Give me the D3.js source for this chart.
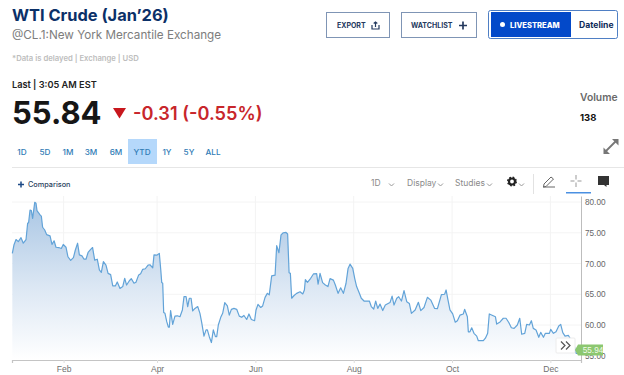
<!DOCTYPE html>
<html><head><meta charset="utf-8">
<script src="https://cdnjs.cloudflare.com/ajax/libs/d3/7.8.5/d3.min.js"></script>
<style>html,body{margin:0;padding:0;background:#fff;overflow:hidden}svg{display:block}text{font-family:Inter,"Open Sans",sans-serif}</style>
</head><body><svg id="c" width="624" height="375"></svg>
<script>
// day of year 2025 (days since Jan 1)
const days=[0.2,1.2,2.5,3.9,5.6,7,8.7,9.7,10.3,11.2,12,12.8,14.1,14.9,15.5,16.5,17.4,18.2,19,20.3,21.5,23.6,24.8,26.1,27.3,29,30.6,31.8,33.5,34.7,36.4,38.1,39.3,40.7,41.8,43.4,44.7,45.9,47.2,48.8,50,51.3,52.9,54.2,55.4,56.7,58.3,59.6,61.2,62.5,64.1,65.3,67,68.7,69.9,71.1,72.8,74,75.7,76.9,78.6,79.8,81.1,82.7,84.4,85.6,87.3,88.1,89.8,91.4,92.3,92.9,93.5,94.1,94.9,96,97,97.6,98.4,99.7,101.1,102.6,104.2,105.7,106.7,108,109,110,111.1,112.1,113.5,115.2,116.6,117.7,119.1,120.4,121.2,122.4,123.7,124.9,126.2,127,128,129.5,130.7,132,133.6,134.8,136.1,137.7,139.4,141,142.5,143.9,145.6,147,148.5,150.5,151.4,152.6,154.3,155.5,157,158.4,159.6,161.1,163.2,164.2,165.6,166.9,168.3,170,171,171.9,172.7,173.5,175,176.6,178.7,180.4,181.4,182,183.3,185.3,187,189,189.9,191.1,192.7,194.4,196,197.3,199.4,200.6,202.3,203.9,205.6,207.2,208.5,209.7,211.4,212.6,213.8,215.5,216.7,218.4,221.7,222.9,224.4,225.6,226.9,228.3,230,231.6,234.5,235.8,237,238.7,239.9,241.6,243.2,244.9,246.5,247.8,250.1,252.1,253.6,255.6,257.7,259.8,262.2,263.9,266.4,268.4,269.3,270.5,271.7,273.4,275,276.3,277.9,280,280.8,282.5,283.1,284.1,285.2,286.6,288.3,289.3,292.4,293.7,295.1,296.1,298.2,299.9,300.7,302.8,304.8,306.5,308.2,309.8,311.5,313.5,315,316.2,318.1,319.3,321,322.2,323.4,325.1,326.8,328,329.7,330.9,333.4,334.2,335.9,337.5,339.2,340.4,341.7,343.1,345.2,348.7,350,351.4];
const prices=[71.65,73,73.9,73.55,74.2,73.3,73.9,76.55,76.65,78.7,78.6,77.35,79.95,79.8,78.6,78.25,77.9,77.7,75.9,75.45,74.7,74.5,73.1,73.7,72.65,72.6,72.45,73.1,72.65,71.1,70.5,70.95,72.2,73.3,71.4,71.25,70.7,70.7,71.8,72.3,72.6,70.55,70.7,68.95,68.55,70.3,69.75,68.4,68.2,66.35,66.35,67,65.95,66.25,67.6,66.5,67.2,67.55,66.8,66.95,68.15,68.35,69.05,69.15,69.75,69.8,69.3,71.4,71.35,71.65,68.95,66.9,66.8,62.05,61.9,60.55,59.65,59.65,62.35,60.1,61.45,61.5,61.35,62.45,64.6,64.6,63,64.35,64.35,62.3,62.7,63,61.9,60.4,58.2,59.2,59.2,58.1,57.15,59.2,58.1,58.1,60,61.25,61.9,63.65,63.1,61.6,62.55,62.7,62.55,61.45,61.25,61.55,60.9,61.8,60.9,60.7,62.45,63.35,62.85,63.1,64.5,65.15,64.9,68,68.1,72.9,71.75,74.65,75,75.05,74.8,68.5,68.4,64.35,64.8,65.15,65.4,65.05,65.7,67.4,66.95,67.6,68.3,68.35,66.65,68.4,66.9,66.5,66.25,67.55,67.3,66.5,65.15,66.05,65.15,66.75,69.2,69.9,69.2,67.6,66.25,65.15,64.35,63.9,63.9,63,62.6,63.9,62.7,63.4,62.35,63.25,63.65,64.7,63.25,64.35,64.6,63.9,65.6,63.8,63.5,61.9,62.45,63.7,62.35,62.85,64.5,64.05,62.7,62.65,64.95,65,65.7,64.05,62.45,61.8,60.45,60.7,61.6,61.8,62.55,61.35,58.9,58.9,59.55,58.65,58.2,57.45,57.45,57.85,58.65,61.8,61.55,61.35,60.15,60.5,61.1,61.1,60.4,59.55,59.45,60,61.1,58.5,58.65,60.1,60,60.7,59.45,59.2,58,58.8,58,58.65,58.65,59.3,58.65,58.9,59.85,60.1,58.75,58.2,58.3,56.75,55.4,55.4];
const monthDays=[32,90,151,212,273,334];
const monthLabels=["Feb","Apr","Jun","Aug","Oct","Dec"];
const priceTicks=[80,75,70,65,60,55];
const rangeLabels=["1D","5D","1M","3M","6M","YTD","1Y","5Y","ALL"];
const rangeCenters=[22,45,68,91,116,142,167,189,213];
const toolbarLabels=[["1D",371],["Display",407],["Studies",455]];

const svg=d3.select("#c");
const x=d3.scaleLinear().domain([0,353]).range([12,581]);
const y=d3.scaleLinear().domain([54.31,80.98]).range([360,196]);
const defs=svg.append("defs");
const g=defs.append("linearGradient").attr("id","ag").attr("x1",0).attr("x2",0).attr("y1",0).attr("y2",1);
g.append("stop").attr("offset","0%").attr("stop-color","#a9c6e4");
g.append("stop").attr("offset","55%").attr("stop-color","#dde8f4");
g.append("stop").attr("offset","100%").attr("stop-color","#ffffff");
const T=(s,px,py,size,fill,weight,anchor)=>svg.append("text").text(s).attr("x",px).attr("y",py).attr("font-size",size).attr("fill",fill).attr("font-weight",weight||400).attr("text-anchor",anchor||"start");

// header
T("WTI Crude (Jan’26)",12,21,16.4,"#0b3068",700);
T("@CL.1:New York Mercantile Exchange",12,39,11.7,"#7d7d7d",400);
T("*Data is delayed | Exchange | USD",12,61,7.7,"#bdbdbd",600);
T("Last | 3:05 AM EST",12,88,9.2,"#222",600);
T("55.84",12,124,31,"#161616",700);
svg.append("path").attr("d","M113 108H126L119.500 118.500Z").attr("fill","#c8171d");
T("-0.31 (-0.55%)",133,120,18.2,"#c8262b",600);
svg.append("rect").attr("x",128).attr("y",139).attr("width",29).attr("height",25).attr("fill","#b5d8fb");
rangeLabels.forEach((s,i)=>T(s,rangeCenters[i],154.500,8.200,"#2f7bb5",500,"middle"));
svg.append("line").attr("x1",12).attr("x2",624).attr("y1",167.500).attr("y2",167.500).attr("stroke","#e6e6e6");

// buttons
const box=(a,b,w,h,st,f,r)=>svg.append("rect").attr("x",a).attr("y",b).attr("width",w).attr("height",h).attr("fill",f||"#fff").attr("stroke",st).attr("rx",r||0);
box(326.500,12.500,63,25,"#7f95b5"); box(401.500,12.500,75,25,"#7f95b5");
box(488.500,10.500,129,28,"#4f7fc4","#fff",2);
svg.append("rect").attr("x",491).attr("y",12).attr("width",80).attr("height",25).attr("fill","#0349c9");
T("EXPORT",337,28,7,"#24395e",700);
svg.append("path").attr("d","M372 25V29H379V25M375.500 27V22M373.700 23.500L375.500 22L377.300 23.500").attr("fill","none").attr("stroke","#24395e").attr("stroke-width",1.2);
T("WATCHLIST",411,28,7,"#24395e",700);
svg.append("path").attr("d","M459 25.500H467M463 21.500V29.500").attr("stroke","#24395e").attr("stroke-width",1.700);
svg.append("circle").attr("cx",502.500).attr("cy",24.500).attr("r",2.500).attr("fill","#fff");
T("LIVESTREAM",510,27.500,7.600,"#fff",800);
T("Dateline",579,28,8.600,"#0d2a58",700);
T("Volume",580,101,10.300,"#6a6a6a",600);
T("138",580,121,9.500,"#111",700);
svg.append("path").attr("d","M605 152L616 141").attr("stroke","#777").attr("stroke-width",1.800);
svg.append("path").attr("d","M612 139H618.500V145.500ZM603.500 147.500V154H610Z").attr("fill","#777");

// toolbar
svg.append("path").attr("d","M18 184.500H24M21 181.500V187.500").attr("stroke","#1d4a86").attr("stroke-width",1.500);
T("Comparison",28,187,7.300,"#2b3f5e",500);
toolbarLabels.forEach(d=>T(d[0],d[1],186,8.500,"#8a8a8a",400));
[389,438,487,519].forEach(d=>svg.append("path").attr("d",`M${d} 183.500l2.500 2.500l2.500 -2.500`).attr("fill","none").attr("stroke","#999"));
svg.append("circle").attr("cx",512).attr("cy",181.500).attr("r",3).attr("fill","none").attr("stroke","#222").attr("stroke-width",2.200);
svg.append("circle").attr("cx",512).attr("cy",181.500).attr("r",4.300).attr("fill","none").attr("stroke","#222").attr("stroke-width",1.400).attr("stroke-dasharray","1.700 1.700");
svg.append("line").attr("x1",533.500).attr("x2",533.500).attr("y1",174).attr("y2",194).attr("stroke","#e2e2e2");
svg.append("path").attr("d","M544 184L551 177L553.500 179L546 186.500L543.500 187ZM543 187H555").attr("fill","none").attr("stroke","#666");
svg.append("path").attr("d","M576 175V179.500M576 182.500V187M570.500 181H574.500M577.500 181H581.500").attr("stroke","#999");
svg.append("path").attr("d","M598 176H609V185H606.500V187L604 185H598Z").attr("fill","#333");
svg.append("rect").attr("x",566).attr("y",192).attr("width",25).attr("height",1.500).attr("fill","#4a90e2");

// grid
svg.append("g").selectAll("line").data(priceTicks.slice(0,-1)).join("line").attr("x1",12).attr("x2",581).attr("y1",d=>y(d)).attr("y2",d=>y(d)).attr("stroke","#f4f4f4");
svg.append("g").selectAll("line").data(monthDays).join("line").attr("x1",d=>x(d)).attr("x2",d=>x(d)).attr("y1",196).attr("y2",360).attr("stroke","#f3f3f3");

// area and line
const idx=d3.range(days.length);
svg.append("path").attr("d",d3.area().x(i=>x(days[i])).y0(360).y1(i=>y(prices[i]))(idx)).attr("fill","url(#ag)");
svg.append("path").attr("d",d3.line().x(i=>x(days[i])).y(i=>y(prices[i]))(idx)).attr("fill","none").attr("stroke","#62a3d8").attr("stroke-width",1.200).attr("stroke-linejoin","round");

// axes
const ax=svg.append("g").attr("transform","translate(0,360)").call(d3.axisBottom(x).tickValues(monthDays).tickFormat((d,i)=>monthLabels[i]).tickSize(3).tickPadding(3));
ax.select(".domain").attr("stroke","#c4c4c4").attr("stroke-width",1.200);
ax.selectAll("line").attr("stroke","#ddd");
ax.selectAll("text").attr("font-size",8.500).attr("fill","#6f6f6f").style("font-family","'Liberation Sans',Arial,sans-serif");
const ay=svg.append("g").attr("transform","translate(581,0)").call(d3.axisRight(y).tickValues(priceTicks).tickFormat(d3.format(".2f")).tickSize(0).tickPadding(4));
ay.select(".domain").attr("stroke","#bdbdbd");
ay.selectAll("text").attr("font-size",8.200).attr("fill","#666").style("font-family","'Liberation Sans',Arial,sans-serif");

// scroll button
svg.append("rect").attr("x",556).attr("y",338).attr("width",19).attr("height",15).attr("rx",1).attr("fill","#fff").attr("stroke","#ececec");
svg.append("path").attr("d","M561 341.500L565 345.500L561 349.500M566 341.500L570 345.500L566 349.500").attr("fill","none").attr("stroke","#555").attr("stroke-width",1.200);

// last price tag
const lastTag=55.94, ty=y(lastTag);
svg.append("path").attr("d",`M575 ${ty}L578 ${ty-5.5}H603V${ty+5.5}H578Z`).attr("fill","#8cc770");
T(lastTag.toFixed(2),593,ty+3,8.200,"#f2fbe9",400,"middle").style("font-family","'Liberation Sans',Arial,sans-serif");
</script></body></html>
